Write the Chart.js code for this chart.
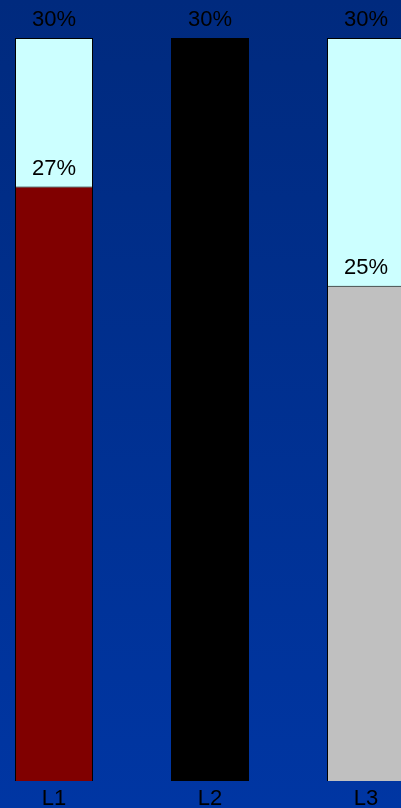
<!DOCTYPE html>
<html>
<head>
<meta charset="utf-8">
<script src="https://cdn.jsdelivr.net/npm/chart.js@4"></script>
<style>
  html, body {
    margin: 0;
    padding: 0;
    width: 401px;
    height: 808px;
    overflow: hidden;
    background: linear-gradient(to bottom, #002a7e, #0036a3);
  }
  #wrap {
    position: absolute;
    left: -24px;
    top: 0;
    width: 468px;
    height: 808px;
  }
</style>
</head>
<body>
<div id="wrap"><canvas id="levelChart"></canvas></div>
<script>
const levelNames = ["L1", "L2", "L3"];
const levelValues = [27, 30, 25];
const levelCaps = [30, 30, 30];
const levelColors = ["#800000", "#000000", "#c0c0c0"];
const capColor = "#ccffff";

const labelFont = '22px "Liberation Sans", Arial, sans-serif';

// percent labels above each bar top, level names under the bars
const percentLabels = {
    id: 'percentLabels',
    afterDatasetsDraw(chart) {
        const ctx = chart.ctx;
        const xScale = chart.scales.x;
        ctx.save();
        ctx.font = labelFont;
        ctx.fillStyle = '#000';
        ctx.textAlign = 'center';
        ctx.textBaseline = 'alphabetic';
        const capMeta = chart.getDatasetMeta(0);
        const valMeta = chart.getDatasetMeta(1);
        for (let i = 0; i < levelNames.length; i++) {
            const capBar = capMeta.data[i];
            ctx.fillText(levelCaps[i] + '%', capBar.x, capBar.y - 12);
            if (levelValues[i] != levelCaps[i]) {
                const valBar = valMeta.data[i];
                ctx.fillText(levelValues[i] + '%', valBar.x, valBar.y - 12);
            }
            ctx.fillText(levelNames[i], xScale.getPixelForValue(i), chart.chartArea.bottom + 24);
        }
        ctx.restore();
    }
};

var ctx = document.getElementById('levelChart').getContext('2d');
var levelChart = new Chart(ctx, {
    type: 'bar',
    data: {
        labels: levelNames,
        datasets: [{
            label: 'Cap',
            data: levelCaps,
            backgroundColor: capColor,
            borderColor: '#000',
            borderWidth: 1,
            borderSkipped: false,
            order: 2
        }, {
            label: 'Level',
            data: levelValues,
            backgroundColor: levelColors,
            borderColor: '#000',
            borderWidth: 1,
            borderSkipped: false,
            order: 1
        }]
    },
    options: {
        responsive: true,
        maintainAspectRatio: false,
        animation: false,
        grouped: false,
        barPercentage: 1,
        categoryPercentage: 0.5,
        layout: {
            padding: { top: 38, left: 0, right: 0, bottom: 27 }
        },
        plugins: {
            legend: { display: false },
            tooltip: { enabled: false }
        },
        scales: {
            x: { display: false },
            y: {
                display: false,
                min: 15,
                max: 30
            }
        }
    },
    plugins: [percentLabels]
});
</script>
</body>
</html>
